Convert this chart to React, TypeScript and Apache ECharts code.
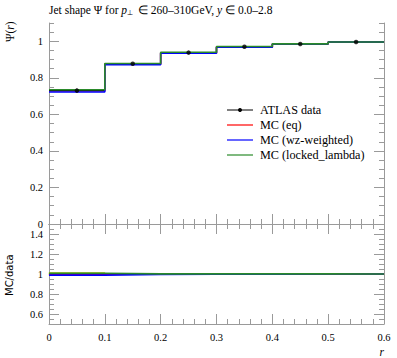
import React, { useEffect, useRef } from "react";
import * as echarts from "echarts";

// ---- data ----
const binEdges = [0, 0.1, 0.2, 0.3, 0.4, 0.5, 0.6];
const binCenters = [0.05, 0.15, 0.25, 0.35, 0.45, 0.55];
const atlasData = [0.73, 0.877, 0.938, 0.97, 0.985, 0.996];
const atlasErr = [0.011, 0.004, 0.003, 0.002, 0.001, 0.001];
const mcEq = [0.729, 0.875, 0.936, 0.968, 0.985, 0.996];
const mcWz = [0.722, 0.872, 0.935, 0.967, 0.985, 0.996];
const mcLocked = [0.735, 0.878, 0.94, 0.971, 0.986, 0.996];

const xTickLabels = [0, 0.1, 0.2, 0.3, 0.4, 0.5, 0.6];
const mainYLabels = [0, 0.2, 0.4, 0.6, 0.8, 1];
const ratioYLabels = [0.6, 0.8, 1, 1.2, 1.4];

const seriesNames = ["ATLAS data", "MC (eq)", "MC (wz-weighted)", "MC (locked_lambda)"];
const seriesColors = ["#000000", "#ff0000", "#0000ff", "#2a8a2a"];

const FONT = "'Liberation Serif', serif";
const AX = "#9a9a9a";

function histPoints(vals: number[]) {
  return binEdges.map((e, i) => [e, vals[Math.min(i, vals.length - 1)]]);
}
function ratio(vals: number[]) {
  return vals.map((v, i) => v / atlasData[i]);
}

export default function App() {
  const ref = useRef<HTMLDivElement>(null);
  useEffect(() => {
    if (!ref.current) return;
    const chart = echarts.init(ref.current, null, { renderer: "svg" });

    const labelStyle = { fontFamily: FONT, fontSize: 10.5, color: "#000" };

    const xBase = (gridIndex: number, position: "top" | "bottom", showLabels: boolean) => ({
      type: "value",
      gridIndex,
      position,
      min: 0,
      max: 0.6,
      interval: 0.1,
      axisLine: { show: true, lineStyle: { color: AX, width: 1 } },
      axisTick: { show: true, inside: true, length: 10, lineStyle: { color: AX } },
      minorTick: { show: true, splitNumber: 5, length: 5, lineStyle: { color: AX } },
      splitLine: { show: false },
      axisLabel: { show: showLabels, customValues: xTickLabels, margin: 8, ...labelStyle },
    });

    const yMajor = (gridIndex: number, position: "left" | "right", min: number, max: number, labels: number[], showLabels: boolean) => ({
      type: "value",
      gridIndex,
      position,
      min,
      max,
      axisLine: { show: true, lineStyle: { color: AX, width: 1 } },
      axisTick: { show: true, inside: true, length: 10, customValues: labels, lineStyle: { color: AX } },
      splitLine: { show: false },
      axisLabel: { show: showLabels, customValues: labels, margin: 6, ...labelStyle },
    });
    const yMinor = (gridIndex: number, position: "left" | "right", min: number, max: number) => ({
      type: "value",
      gridIndex,
      position,
      min,
      max,
      interval: 0.05,
      axisLine: { show: false },
      axisTick: { show: true, inside: true, length: 5, lineStyle: { color: AX } },
      splitLine: { show: false },
      axisLabel: { show: false },
    });

    const stepLine = (name: string, vals: number[], color: string, xi: number, yi: number, z: number) => ({
      name,
      type: "line",
      xAxisIndex: xi,
      yAxisIndex: yi,
      step: "end",
      symbol: "none",
      data: histPoints(vals),
      lineStyle: { color, width: 1.6 },
      itemStyle: { color },
      z,
    });

    const bandData = binEdges.slice(0, -1).map((e, i) => [
      e,
      binEdges[i + 1],
      1 - atlasErr[i] / atlasData[i],
      1 + atlasErr[i] / atlasData[i],
    ]);
    const dataBars = binEdges.slice(0, -1).map((e, i) => [e, binEdges[i + 1], atlasData[i], atlasErr[i]]);

    // manual legend
    const legendX = 227;
    const legendY0 = 110;
    const legendDY = 15;
    const legendGraphics: any[] = [];
    seriesNames.forEach((name, i) => {
      const y = legendY0 + i * legendDY;
      legendGraphics.push({
        type: "line",
        shape: { x1: legendX, y1: y, x2: legendX + 26, y2: y },
        style: { stroke: seriesColors[i], lineWidth: i === 0 ? 1 : 1.2 },
      });
      if (i === 0) {
        legendGraphics.push({
          type: "circle",
          shape: { cx: legendX + 13, cy: y, r: 2 },
          style: { fill: "#000" },
        });
      }
      legendGraphics.push({
        type: "text",
        x: legendX + 33,
        y,
        style: { text: name, fontFamily: FONT, fontSize: 12.2, fill: "#000", verticalAlign: "middle", align: "left" },
      });
    });

    const option = {
      animation: false,
      textStyle: { fontFamily: FONT },
      grid: [
        { left: 49, top: 23, width: 335, height: 201 },
        { left: 49, top: 224, width: 335, height: 100 },
      ],
      xAxis: [
        xBase(0, "bottom", false),
        xBase(0, "top", false),
        xBase(1, "bottom", true),
        xBase(1, "top", false),
      ],
      yAxis: [
        yMajor(0, "left", 0, 1.1, mainYLabels, true),
        yMinor(0, "left", 0, 1.1),
        yMajor(0, "right", 0, 1.1, mainYLabels, false),
        yMinor(0, "right", 0, 1.1),
        yMajor(1, "left", 0.5, 1.5, ratioYLabels, true),
        yMinor(1, "left", 0.5, 1.5),
        yMajor(1, "right", 0.5, 1.5, ratioYLabels, false),
        yMinor(1, "right", 0.5, 1.5),
      ],
      series: [
        stepLine(seriesNames[1], mcEq, seriesColors[1], 0, 0, 2),
        {
          name: "data x-err",
          type: "custom",
          xAxisIndex: 0,
          yAxisIndex: 0,
          data: dataBars,
          z: 3,
          renderItem: (params: any, api: any) => {
            const a = api.coord([api.value(0), api.value(2)]);
            const b = api.coord([api.value(1), api.value(2)]);
            const c = api.coord([(api.value(0) + api.value(1)) / 2, api.value(2) + api.value(3)]);
            const d = api.coord([(api.value(0) + api.value(1)) / 2, api.value(2) - api.value(3)]);
            return {
              type: "group",
              children: [
                { type: "line", shape: { x1: a[0], y1: a[1], x2: b[0], y2: b[1] }, style: { stroke: "#000", lineWidth: 1.2 } },
                { type: "line", shape: { x1: c[0], y1: c[1], x2: d[0], y2: d[1] }, style: { stroke: "#000", lineWidth: 1 } },
              ],
            };
          },
        },
        stepLine(seriesNames[2], mcWz, seriesColors[2], 0, 0, 4),
        stepLine(seriesNames[3], mcLocked, seriesColors[3], 0, 0, 5),
        {
          name: seriesNames[0],
          type: "scatter",
          xAxisIndex: 0,
          yAxisIndex: 0,
          data: binCenters.map((c, i) => [c, atlasData[i]]),
          symbol: "circle",
          symbolSize: 4.5,
          itemStyle: { color: "#000" },
          z: 6,
        },
        {
          name: "data band",
          type: "custom",
          xAxisIndex: 2,
          yAxisIndex: 4,
          data: bandData,
          z: 1,
          renderItem: (params: any, api: any) => {
            const p0 = api.coord([api.value(0), api.value(3)]);
            const p1 = api.coord([api.value(1), api.value(2)]);
            return {
              type: "rect",
              shape: { x: p0[0], y: p0[1], width: p1[0] - p0[0], height: Math.max(p1[1] - p0[1], 0.5) },
              style: { fill: "#e6e600", stroke: "#b8b800", lineWidth: 0.5 },
            };
          },
        },
        stepLine(seriesNames[1], ratio(mcEq), seriesColors[1], 2, 4, 2),
        stepLine(seriesNames[2], ratio(mcWz), seriesColors[2], 2, 4, 3),
        stepLine(seriesNames[3], ratio(mcLocked), seriesColors[3], 2, 4, 4),
      ],
      graphic: [
        ...legendGraphics,
        {
          type: "text",
          left: 49,
          top: 4,
          style: {
            text: "{n|Jet shape Ψ for }{i|p}{s|⊥}{n| ∈ 260–310GeV, }{i|y}{n| ∈ 0.0–2.8}",
            rich: {
              n: { fontFamily: FONT, fontSize: 11.5, fill: "#000" },
              i: { fontFamily: FONT, fontSize: 11.5, fontStyle: "italic", fill: "#000" },
              s: { fontFamily: FONT, fontSize: 7, fill: "#000", verticalAlign: "bottom", padding: [5, 2, 0, 0] },
            },
          },
        },
        {
          type: "text",
          x: 4,
          y: 42,
          rotation: Math.PI / 2,
          style: {
            text: "{n|Ψ(}{i|r}{n|)}",
            rich: {
              n: { fontFamily: FONT, fontSize: 11.5, fill: "#000" },
              i: { fontFamily: FONT, fontSize: 11.5, fontStyle: "italic", fill: "#000" },
            },
            align: "left",
            verticalAlign: "top",
          },
        },
        {
          type: "text",
          x: 4,
          y: 296,
          rotation: Math.PI / 2,
          style: {
            text: "MC/data",
            fontFamily: "DejaVu Sans",
            fontSize: 10,
            fill: "#000",
            align: "left",
            verticalAlign: "top",
          },
        },
        {
          type: "text",
          x: 384,
          y: 346,
          style: {
            text: "r",
            fontFamily: FONT,
            fontSize: 11.5,
            fontStyle: "italic",
            fill: "#000",
            align: "right",
            verticalAlign: "top",
          },
        },
      ],
    };

    chart.setOption(option as any);
    return () => chart.dispose();
  }, []);

  return <div ref={ref} style={{ width: 397, height: 358, position: "absolute", left: 0, top: 0 }} />;
}
